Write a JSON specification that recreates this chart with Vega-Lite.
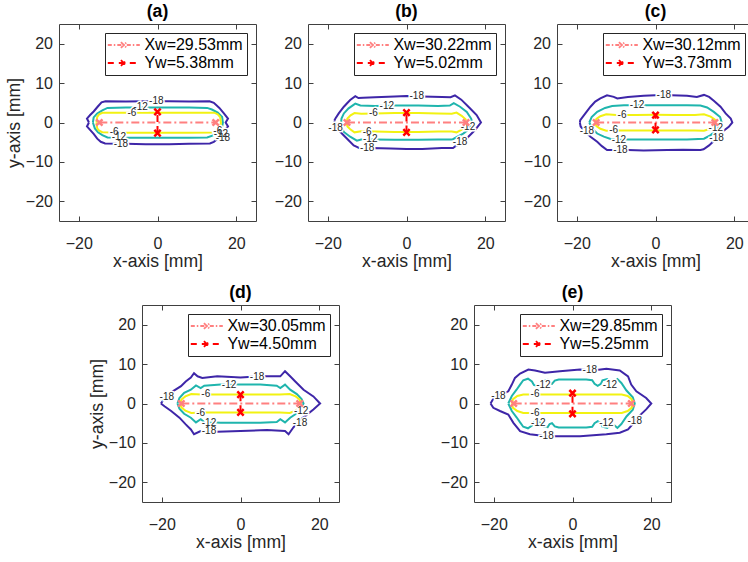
{
"$schema":"https://vega.github.io/schema/vega-lite/v6.json",
"padding":{"left":4,"top":2,"right":0,"bottom":0},
"background":"white",
"datasets":{
"contours":[
{"p":"a","l":-18,"x":-17.4,"y":0},{"p":"a","l":-18,"x":-17.9,"y":1.0},{"p":"a","l":-18,"x":-17.1,"y":1.9},{"p":"a","l":-18,"x":-16.2,"y":2.8},{"p":"a","l":-18,"x":-15.2,"y":4.0},{"p":"a","l":-18,"x":-14.2,"y":5.1},{"p":"a","l":-18,"x":-13.2,"y":5.4},{"p":"a","l":-18,"x":-8,"y":5.3},{"p":"a","l":-18,"x":-3,"y":5.4},{"p":"a","l":-18,"x":3,"y":5.4},{"p":"a","l":-18,"x":8,"y":5.3},{"p":"a","l":-18,"x":13.2,"y":5.4},{"p":"a","l":-18,"x":14.3,"y":5.0},{"p":"a","l":-18,"x":15.7,"y":3.7},{"p":"a","l":-18,"x":16.8,"y":2.4},{"p":"a","l":-18,"x":17.9,"y":1.0},{"p":"a","l":-18,"x":17.3,"y":0},{"p":"a","l":-18,"x":17.9,"y":-1.0},{"p":"a","l":-18,"x":17.0,"y":-2.0},{"p":"a","l":-18,"x":16.2,"y":-2.9},{"p":"a","l":-18,"x":15.3,"y":-4.1},{"p":"a","l":-18,"x":14.3,"y":-4.9},{"p":"a","l":-18,"x":13.3,"y":-5.3},{"p":"a","l":-18,"x":8,"y":-5.4},{"p":"a","l":-18,"x":3,"y":-5.5},{"p":"a","l":-18,"x":-3,"y":-5.5},{"p":"a","l":-18,"x":-8,"y":-5.4},{"p":"a","l":-18,"x":-13.3,"y":-5.3},{"p":"a","l":-18,"x":-14.4,"y":-4.9},{"p":"a","l":-18,"x":-15.3,"y":-4.1},{"p":"a","l":-18,"x":-16.2,"y":-2.9},{"p":"a","l":-18,"x":-17.0,"y":-2.0},{"p":"a","l":-18,"x":-17.9,"y":-1.0},{"p":"a","l":-18,"x":-17.4,"y":0},
{"p":"a","l":-12,"x":-16.4,"y":0},{"p":"a","l":-12,"x":-16.2,"y":1.3},{"p":"a","l":-12,"x":-15.3,"y":2.3},{"p":"a","l":-12,"x":-14.0,"y":3.1},{"p":"a","l":-12,"x":-12.7,"y":3.7},{"p":"a","l":-12,"x":-8,"y":3.8},{"p":"a","l":-12,"x":-3,"y":3.8},{"p":"a","l":-12,"x":3,"y":3.8},{"p":"a","l":-12,"x":8,"y":3.8},{"p":"a","l":-12,"x":12.6,"y":3.7},{"p":"a","l":-12,"x":13.8,"y":3.3},{"p":"a","l":-12,"x":15.3,"y":2.5},{"p":"a","l":-12,"x":16.4,"y":1.4},{"p":"a","l":-12,"x":16.6,"y":0},{"p":"a","l":-12,"x":16.4,"y":-1.1},{"p":"a","l":-12,"x":15.5,"y":-2.4},{"p":"a","l":-12,"x":14.3,"y":-3.2},{"p":"a","l":-12,"x":12.6,"y":-3.8},{"p":"a","l":-12,"x":8,"y":-3.9},{"p":"a","l":-12,"x":3,"y":-3.9},{"p":"a","l":-12,"x":-3,"y":-3.9},{"p":"a","l":-12,"x":-8,"y":-3.9},{"p":"a","l":-12,"x":-12.7,"y":-3.8},{"p":"a","l":-12,"x":-14.0,"y":-3.2},{"p":"a","l":-12,"x":-15.1,"y":-2.5},{"p":"a","l":-12,"x":-15.9,"y":-1.5},{"p":"a","l":-12,"x":-16.4,"y":0},
{"p":"a","l":-6,"x":-15.5,"y":0},{"p":"a","l":-6,"x":-15.3,"y":1.4},{"p":"a","l":-6,"x":-14.8,"y":2.1},{"p":"a","l":-6,"x":-14.0,"y":2.45},{"p":"a","l":-6,"x":-8,"y":2.5},{"p":"a","l":-6,"x":-3,"y":2.5},{"p":"a","l":-6,"x":3,"y":2.5},{"p":"a","l":-6,"x":8,"y":2.5},{"p":"a","l":-6,"x":14.4,"y":2.5},{"p":"a","l":-6,"x":15.3,"y":2.1},{"p":"a","l":-6,"x":15.9,"y":1.4},{"p":"a","l":-6,"x":16.1,"y":0},{"p":"a","l":-6,"x":15.9,"y":-1.5},{"p":"a","l":-6,"x":15.2,"y":-2.2},{"p":"a","l":-6,"x":14.3,"y":-2.55},{"p":"a","l":-6,"x":8,"y":-2.6},{"p":"a","l":-6,"x":3,"y":-2.6},{"p":"a","l":-6,"x":-3,"y":-2.6},{"p":"a","l":-6,"x":-8,"y":-2.6},{"p":"a","l":-6,"x":-14.0,"y":-2.45},{"p":"a","l":-6,"x":-14.8,"y":-2.1},{"p":"a","l":-6,"x":-15.3,"y":-1.5},{"p":"a","l":-6,"x":-15.5,"y":0},

{"p":"b","l":-18,"x":-18.3,"y":0.5},{"p":"b","l":-18,"x":-18.0,"y":1.1},{"p":"b","l":-18,"x":-17.2,"y":2.3},{"p":"b","l":-18,"x":-15.9,"y":4.0},{"p":"b","l":-18,"x":-14.3,"y":5.7},{"p":"b","l":-18,"x":-13.0,"y":6.7},{"p":"b","l":-18,"x":-12.2,"y":6.2},{"p":"b","l":-18,"x":-11.0,"y":6.3},{"p":"b","l":-18,"x":-8,"y":6.4},{"p":"b","l":-18,"x":-3,"y":6.6},{"p":"b","l":-18,"x":0,"y":6.7},{"p":"b","l":-18,"x":4,"y":6.6},{"p":"b","l":-18,"x":9,"y":6.5},{"p":"b","l":-18,"x":11.2,"y":6.4},{"p":"b","l":-18,"x":12.3,"y":6.9},{"p":"b","l":-18,"x":13.9,"y":5.8},{"p":"b","l":-18,"x":16.1,"y":3.6},{"p":"b","l":-18,"x":17.8,"y":1.9},{"p":"b","l":-18,"x":18.9,"y":0},{"p":"b","l":-18,"x":17.4,"y":-1.9},{"p":"b","l":-18,"x":15.7,"y":-3.6},{"p":"b","l":-18,"x":13.9,"y":-5.4},{"p":"b","l":-18,"x":12.6,"y":-5.9},{"p":"b","l":-18,"x":11.8,"y":-6.5},{"p":"b","l":-18,"x":9,"y":-6.5},{"p":"b","l":-18,"x":4,"y":-6.7},{"p":"b","l":-18,"x":0,"y":-6.7},{"p":"b","l":-18,"x":-4,"y":-6.6},{"p":"b","l":-18,"x":-9,"y":-6.5},{"p":"b","l":-18,"x":-11.8,"y":-6.6},{"p":"b","l":-18,"x":-12.6,"y":-6.2},{"p":"b","l":-18,"x":-13.4,"y":-5.8},{"p":"b","l":-18,"x":-14.7,"y":-4.5},{"p":"b","l":-18,"x":-16.4,"y":-2.8},{"p":"b","l":-18,"x":-17.6,"y":-1.5},{"p":"b","l":-18,"x":-18.3,"y":0.5},
{"p":"b","l":-12,"x":-16.6,"y":0},{"p":"b","l":-12,"x":-16.5,"y":1.0},{"p":"b","l":-12,"x":-15.9,"y":2.3},{"p":"b","l":-12,"x":-14.7,"y":3.6},{"p":"b","l":-12,"x":-13.0,"y":4.8},{"p":"b","l":-12,"x":-11.7,"y":4.3},{"p":"b","l":-12,"x":-8,"y":4.2},{"p":"b","l":-12,"x":-3,"y":4.3},{"p":"b","l":-12,"x":3,"y":4.3},{"p":"b","l":-12,"x":8,"y":4.2},{"p":"b","l":-12,"x":11.0,"y":4.3},{"p":"b","l":-12,"x":12.0,"y":4.9},{"p":"b","l":-12,"x":13.6,"y":4.0},{"p":"b","l":-12,"x":15.3,"y":2.7},{"p":"b","l":-12,"x":16.4,"y":1.0},{"p":"b","l":-12,"x":16.7,"y":0},{"p":"b","l":-12,"x":16.1,"y":-1.5},{"p":"b","l":-12,"x":14.4,"y":-2.8},{"p":"b","l":-12,"x":12.7,"y":-3.7},{"p":"b","l":-12,"x":11.7,"y":-4.3},{"p":"b","l":-12,"x":8,"y":-4.3},{"p":"b","l":-12,"x":3,"y":-4.4},{"p":"b","l":-12,"x":-3,"y":-4.4},{"p":"b","l":-12,"x":-8,"y":-4.3},{"p":"b","l":-12,"x":-11.5,"y":-4.3},{"p":"b","l":-12,"x":-12.6,"y":-4.6},{"p":"b","l":-12,"x":-14.3,"y":-3.6},{"p":"b","l":-12,"x":-15.9,"y":-2.4},{"p":"b","l":-12,"x":-16.6,"y":-1.0},{"p":"b","l":-12,"x":-16.6,"y":0},
{"p":"b","l":-6,"x":-15.2,"y":0},{"p":"b","l":-6,"x":-15.0,"y":1.0},{"p":"b","l":-6,"x":-14.2,"y":1.8},{"p":"b","l":-6,"x":-13.2,"y":2.4},{"p":"b","l":-6,"x":-11.5,"y":2.2},{"p":"b","l":-6,"x":-8,"y":2.3},{"p":"b","l":-6,"x":-3,"y":2.4},{"p":"b","l":-6,"x":3,"y":2.4},{"p":"b","l":-6,"x":8,"y":2.3},{"p":"b","l":-6,"x":11.5,"y":2.2},{"p":"b","l":-6,"x":12.7,"y":2.5},{"p":"b","l":-6,"x":14.0,"y":1.7},{"p":"b","l":-6,"x":15.0,"y":0.8},{"p":"b","l":-6,"x":15.3,"y":0},{"p":"b","l":-6,"x":15.0,"y":-0.9},{"p":"b","l":-6,"x":14.0,"y":-1.8},{"p":"b","l":-6,"x":12.7,"y":-2.5},{"p":"b","l":-6,"x":11.5,"y":-2.3},{"p":"b","l":-6,"x":8,"y":-2.3},{"p":"b","l":-6,"x":3,"y":-2.4},{"p":"b","l":-6,"x":-3,"y":-2.4},{"p":"b","l":-6,"x":-8,"y":-2.3},{"p":"b","l":-6,"x":-11.5,"y":-2.2},{"p":"b","l":-6,"x":-13.2,"y":-2.5},{"p":"b","l":-6,"x":-14.2,"y":-1.8},{"p":"b","l":-6,"x":-15.0,"y":-1.0},{"p":"b","l":-6,"x":-15.2,"y":0},

{"p":"c","l":-18,"x":-19.2,"y":0},{"p":"c","l":-18,"x":-19.1,"y":0.6},{"p":"c","l":-18,"x":-17.8,"y":2.3},{"p":"c","l":-18,"x":-16.5,"y":4.0},{"p":"c","l":-18,"x":-15.3,"y":5.3},{"p":"c","l":-18,"x":-14.0,"y":6.1},{"p":"c","l":-18,"x":-12.3,"y":6.9},{"p":"c","l":-18,"x":-10.6,"y":6.5},{"p":"c","l":-18,"x":-9.7,"y":6.1},{"p":"c","l":-18,"x":-7,"y":6.5},{"p":"c","l":-18,"x":-3,"y":6.8},{"p":"c","l":-18,"x":0,"y":6.9},{"p":"c","l":-18,"x":4,"y":6.9},{"p":"c","l":-18,"x":8,"y":6.8},{"p":"c","l":-18,"x":10.5,"y":6.5},{"p":"c","l":-18,"x":12.3,"y":7.0},{"p":"c","l":-18,"x":13.6,"y":6.5},{"p":"c","l":-18,"x":14.8,"y":5.5},{"p":"c","l":-18,"x":16.5,"y":4.0},{"p":"c","l":-18,"x":17.8,"y":2.3},{"p":"c","l":-18,"x":19.1,"y":1.0},{"p":"c","l":-18,"x":19.5,"y":0},{"p":"c","l":-18,"x":18.6,"y":-1.1},{"p":"c","l":-18,"x":16.9,"y":-2.4},{"p":"c","l":-18,"x":15.5,"y":-4.0},{"p":"c","l":-18,"x":13.6,"y":-5.8},{"p":"c","l":-18,"x":12.2,"y":-6.8},{"p":"c","l":-18,"x":11.4,"y":-7.0},{"p":"c","l":-18,"x":7,"y":-6.9},{"p":"c","l":-18,"x":3,"y":-7.0},{"p":"c","l":-18,"x":-3,"y":-7.1},{"p":"c","l":-18,"x":-7,"y":-7.0},{"p":"c","l":-18,"x":-11.4,"y":-7.0},{"p":"c","l":-18,"x":-12.3,"y":-7.0},{"p":"c","l":-18,"x":-13.6,"y":-6.0},{"p":"c","l":-18,"x":-14.8,"y":-4.9},{"p":"c","l":-18,"x":-16.5,"y":-3.6},{"p":"c","l":-18,"x":-18.0,"y":-2.2},{"p":"c","l":-18,"x":-19.0,"y":-1.0},{"p":"c","l":-18,"x":-19.2,"y":0},
{"p":"c","l":-12,"x":-16.8,"y":0},{"p":"c","l":-12,"x":-16.2,"y":1.4},{"p":"c","l":-12,"x":-14.8,"y":2.7},{"p":"c","l":-12,"x":-12.8,"y":3.7},{"p":"c","l":-12,"x":-11.0,"y":4.2},{"p":"c","l":-12,"x":-8,"y":4.4},{"p":"c","l":-12,"x":-3,"y":4.4},{"p":"c","l":-12,"x":3,"y":4.4},{"p":"c","l":-12,"x":8,"y":4.4},{"p":"c","l":-12,"x":11.4,"y":4.3},{"p":"c","l":-12,"x":13.1,"y":3.8},{"p":"c","l":-12,"x":14.8,"y":2.7},{"p":"c","l":-12,"x":16.4,"y":1.4},{"p":"c","l":-12,"x":16.8,"y":0},{"p":"c","l":-12,"x":16.5,"y":-0.8},{"p":"c","l":-12,"x":15.5,"y":-1.9},{"p":"c","l":-12,"x":14.0,"y":-3.2},{"p":"c","l":-12,"x":12.3,"y":-4.1},{"p":"c","l":-12,"x":8,"y":-4.3},{"p":"c","l":-12,"x":3,"y":-4.3},{"p":"c","l":-12,"x":-3,"y":-4.3},{"p":"c","l":-12,"x":-8,"y":-4.3},{"p":"c","l":-12,"x":-11.4,"y":-4.2},{"p":"c","l":-12,"x":-13.1,"y":-3.6},{"p":"c","l":-12,"x":-14.8,"y":-2.8},{"p":"c","l":-12,"x":-16.1,"y":-1.5},{"p":"c","l":-12,"x":-16.8,"y":0},
{"p":"c","l":-6,"x":-15.3,"y":0},{"p":"c","l":-6,"x":-15.0,"y":0.9},{"p":"c","l":-6,"x":-14.0,"y":1.6},{"p":"c","l":-6,"x":-12.5,"y":2.1},{"p":"c","l":-6,"x":-10,"y":1.9},{"p":"c","l":-6,"x":-5,"y":1.9},{"p":"c","l":-6,"x":0,"y":1.95},{"p":"c","l":-6,"x":5,"y":1.9},{"p":"c","l":-6,"x":10,"y":1.9},{"p":"c","l":-6,"x":12.3,"y":2.1},{"p":"c","l":-6,"x":14.0,"y":1.5},{"p":"c","l":-6,"x":15.1,"y":0.7},{"p":"c","l":-6,"x":15.4,"y":0},{"p":"c","l":-6,"x":15.0,"y":-0.9},{"p":"c","l":-6,"x":14.0,"y":-1.6},{"p":"c","l":-6,"x":12.3,"y":-2.1},{"p":"c","l":-6,"x":10,"y":-2.0},{"p":"c","l":-6,"x":5,"y":-2.0},{"p":"c","l":-6,"x":0,"y":-2.0},{"p":"c","l":-6,"x":-5,"y":-2.0},{"p":"c","l":-6,"x":-10,"y":-2.0},{"p":"c","l":-6,"x":-12.5,"y":-2.1},{"p":"c","l":-6,"x":-14.0,"y":-1.6},{"p":"c","l":-6,"x":-15.0,"y":-0.9},{"p":"c","l":-6,"x":-15.3,"y":0},

{"p":"d","l":-18,"x":-20.2,"y":0},{"p":"d","l":-18,"x":-18.9,"y":1.8},{"p":"d","l":-18,"x":-17.2,"y":3.1},{"p":"d","l":-18,"x":-15.1,"y":4.4},{"p":"d","l":-18,"x":-13.9,"y":5.6},{"p":"d","l":-18,"x":-12.6,"y":6.6},{"p":"d","l":-18,"x":-11.8,"y":7.7},{"p":"d","l":-18,"x":-10.9,"y":6.9},{"p":"d","l":-18,"x":-9.7,"y":6.5},{"p":"d","l":-18,"x":-5.9,"y":6.9},{"p":"d","l":-18,"x":0,"y":6.6},{"p":"d","l":-18,"x":5.0,"y":6.9},{"p":"d","l":-18,"x":10.1,"y":6.9},{"p":"d","l":-18,"x":11.3,"y":8.2},{"p":"d","l":-18,"x":12.6,"y":6.9},{"p":"d","l":-18,"x":13.9,"y":5.6},{"p":"d","l":-18,"x":16.0,"y":3.5},{"p":"d","l":-18,"x":18.5,"y":1.8},{"p":"d","l":-18,"x":20.2,"y":0},{"p":"d","l":-18,"x":18.5,"y":-1.5},{"p":"d","l":-18,"x":16.4,"y":-3.2},{"p":"d","l":-18,"x":14.7,"y":-4.5},{"p":"d","l":-18,"x":13.4,"y":-6.1},{"p":"d","l":-18,"x":12.2,"y":-7.8},{"p":"d","l":-18,"x":11.3,"y":-7.0},{"p":"d","l":-18,"x":6.7,"y":-6.7},{"p":"d","l":-18,"x":0,"y":-7.0},{"p":"d","l":-18,"x":-5.9,"y":-7.2},{"p":"d","l":-18,"x":-10.1,"y":-7.0},{"p":"d","l":-18,"x":-11.8,"y":-7.8},{"p":"d","l":-18,"x":-12.6,"y":-6.6},{"p":"d","l":-18,"x":-13.9,"y":-5.3},{"p":"d","l":-18,"x":-15.5,"y":-3.6},{"p":"d","l":-18,"x":-17.6,"y":-1.9},{"p":"d","l":-18,"x":-19.3,"y":-0.7},{"p":"d","l":-18,"x":-20.2,"y":0},
{"p":"d","l":-12,"x":-16.0,"y":0},{"p":"d","l":-12,"x":-15.5,"y":1.4},{"p":"d","l":-12,"x":-14.3,"y":2.7},{"p":"d","l":-12,"x":-12.6,"y":3.5},{"p":"d","l":-12,"x":-11.3,"y":4.6},{"p":"d","l":-12,"x":-10.1,"y":3.9},{"p":"d","l":-12,"x":-9.2,"y":4.5},{"p":"d","l":-12,"x":-5,"y":4.8},{"p":"d","l":-12,"x":0,"y":4.8},{"p":"d","l":-12,"x":5,"y":4.8},{"p":"d","l":-12,"x":9.2,"y":4.5},{"p":"d","l":-12,"x":10.1,"y":3.9},{"p":"d","l":-12,"x":11.3,"y":4.8},{"p":"d","l":-12,"x":12.6,"y":3.5},{"p":"d","l":-12,"x":14.3,"y":2.4},{"p":"d","l":-12,"x":15.5,"y":1.1},{"p":"d","l":-12,"x":16.0,"y":0},{"p":"d","l":-12,"x":15.5,"y":-1.2},{"p":"d","l":-12,"x":14.3,"y":-2.5},{"p":"d","l":-12,"x":12.6,"y":-3.6},{"p":"d","l":-12,"x":11.3,"y":-4.8},{"p":"d","l":-12,"x":10.1,"y":-4.0},{"p":"d","l":-12,"x":9.2,"y":-4.7},{"p":"d","l":-12,"x":5,"y":-4.9},{"p":"d","l":-12,"x":0,"y":-4.9},{"p":"d","l":-12,"x":-5,"y":-4.9},{"p":"d","l":-12,"x":-9.2,"y":-4.7},{"p":"d","l":-12,"x":-10.1,"y":-4.0},{"p":"d","l":-12,"x":-11.3,"y":-4.8},{"p":"d","l":-12,"x":-12.6,"y":-3.6},{"p":"d","l":-12,"x":-14.3,"y":-2.6},{"p":"d","l":-12,"x":-15.5,"y":-1.3},{"p":"d","l":-12,"x":-16.0,"y":0},
{"p":"d","l":-6,"x":-15.3,"y":0},{"p":"d","l":-6,"x":-15.0,"y":1.0},{"p":"d","l":-6,"x":-14.0,"y":1.8},{"p":"d","l":-6,"x":-12.5,"y":2.4},{"p":"d","l":-6,"x":-10,"y":2.3},{"p":"d","l":-6,"x":-5,"y":2.3},{"p":"d","l":-6,"x":0,"y":2.3},{"p":"d","l":-6,"x":5,"y":2.3},{"p":"d","l":-6,"x":10,"y":2.3},{"p":"d","l":-6,"x":12.5,"y":2.4},{"p":"d","l":-6,"x":14.0,"y":1.8},{"p":"d","l":-6,"x":15.0,"y":1.0},{"p":"d","l":-6,"x":15.3,"y":0},{"p":"d","l":-6,"x":15.0,"y":-1.0},{"p":"d","l":-6,"x":14.0,"y":-1.8},{"p":"d","l":-6,"x":12.5,"y":-2.4},{"p":"d","l":-6,"x":10,"y":-2.3},{"p":"d","l":-6,"x":5,"y":-2.3},{"p":"d","l":-6,"x":0,"y":-2.3},{"p":"d","l":-6,"x":-5,"y":-2.3},{"p":"d","l":-6,"x":-10,"y":-2.3},{"p":"d","l":-6,"x":-12.5,"y":-2.4},{"p":"d","l":-6,"x":-14.0,"y":-1.8},{"p":"d","l":-6,"x":-15.0,"y":-1.0},{"p":"d","l":-6,"x":-15.3,"y":0},

{"p":"e","l":-18,"x":-20.8,"y":0},{"p":"e","l":-18,"x":-19.7,"y":1.9},{"p":"e","l":-18,"x":-18.0,"y":2.3},{"p":"e","l":-18,"x":-16.3,"y":3.1},{"p":"e","l":-18,"x":-15.4,"y":4.8},{"p":"e","l":-18,"x":-14.6,"y":6.5},{"p":"e","l":-18,"x":-13.3,"y":7.6},{"p":"e","l":-18,"x":-11.2,"y":8.6},{"p":"e","l":-18,"x":-9.5,"y":8.4},{"p":"e","l":-18,"x":-7.0,"y":7.8},{"p":"e","l":-18,"x":-3.2,"y":8.2},{"p":"e","l":-18,"x":1.9,"y":8.6},{"p":"e","l":-18,"x":5.2,"y":8.4},{"p":"e","l":-18,"x":8.6,"y":8.8},{"p":"e","l":-18,"x":12.0,"y":8.4},{"p":"e","l":-18,"x":14.1,"y":6.9},{"p":"e","l":-18,"x":14.9,"y":4.8},{"p":"e","l":-18,"x":16.2,"y":3.1},{"p":"e","l":-18,"x":18.7,"y":1.4},{"p":"e","l":-18,"x":20.0,"y":0},{"p":"e","l":-18,"x":18.7,"y":-1.5},{"p":"e","l":-18,"x":16.9,"y":-3.2},{"p":"e","l":-18,"x":15.5,"y":-5.0},{"p":"e","l":-18,"x":14.1,"y":-6.6},{"p":"e","l":-18,"x":12.0,"y":-7.4},{"p":"e","l":-18,"x":8.6,"y":-7.8},{"p":"e","l":-18,"x":1.9,"y":-8.3},{"p":"e","l":-18,"x":-6.6,"y":-8.3},{"p":"e","l":-18,"x":-10.8,"y":-7.8},{"p":"e","l":-18,"x":-13.3,"y":-7.0},{"p":"e","l":-18,"x":-15.0,"y":-4.9},{"p":"e","l":-18,"x":-16.3,"y":-2.8},{"p":"e","l":-18,"x":-18.4,"y":-1.9},{"p":"e","l":-18,"x":-20.1,"y":-1.1},{"p":"e","l":-18,"x":-20.8,"y":0},
{"p":"e","l":-12,"x":-16.3,"y":0},{"p":"e","l":-12,"x":-15.4,"y":1.9},{"p":"e","l":-12,"x":-14.2,"y":3.5},{"p":"e","l":-12,"x":-13.3,"y":4.8},{"p":"e","l":-12,"x":-12.5,"y":5.9},{"p":"e","l":-12,"x":-11.3,"y":6.3},{"p":"e","l":-12,"x":-10.3,"y":5.6},{"p":"e","l":-12,"x":-9.8,"y":4.7},{"p":"e","l":-12,"x":-8.8,"y":4.4},{"p":"e","l":-12,"x":-7.8,"y":5.0},{"p":"e","l":-12,"x":-7.3,"y":5.8},{"p":"e","l":-12,"x":-6.3,"y":6.0},{"p":"e","l":-12,"x":-5.8,"y":5.2},{"p":"e","l":-12,"x":-5.2,"y":5.0},{"p":"e","l":-12,"x":-4.5,"y":5.8},{"p":"e","l":-12,"x":-3.5,"y":6.1},{"p":"e","l":-12,"x":0,"y":6.1},{"p":"e","l":-12,"x":3.5,"y":6.1},{"p":"e","l":-12,"x":5.0,"y":5.9},{"p":"e","l":-12,"x":5.6,"y":5.0},{"p":"e","l":-12,"x":6.4,"y":4.5},{"p":"e","l":-12,"x":7.2,"y":5.0},{"p":"e","l":-12,"x":7.6,"y":5.9},{"p":"e","l":-12,"x":8.8,"y":6.2},{"p":"e","l":-12,"x":9.8,"y":5.4},{"p":"e","l":-12,"x":10.6,"y":5.5},{"p":"e","l":-12,"x":11.4,"y":6.2},{"p":"e","l":-12,"x":12.4,"y":5.2},{"p":"e","l":-12,"x":13.7,"y":3.3},{"p":"e","l":-12,"x":15.3,"y":1.6},{"p":"e","l":-12,"x":15.8,"y":0},{"p":"e","l":-12,"x":15.3,"y":-1.6},{"p":"e","l":-12,"x":13.7,"y":-3.3},{"p":"e","l":-12,"x":12.4,"y":-5.2},{"p":"e","l":-12,"x":11.4,"y":-6.2},{"p":"e","l":-12,"x":10.6,"y":-5.5},{"p":"e","l":-12,"x":9.8,"y":-5.4},{"p":"e","l":-12,"x":8.8,"y":-6.2},{"p":"e","l":-12,"x":7.6,"y":-5.9},{"p":"e","l":-12,"x":7.2,"y":-5.0},{"p":"e","l":-12,"x":6.4,"y":-4.5},{"p":"e","l":-12,"x":5.6,"y":-5.0},{"p":"e","l":-12,"x":5.0,"y":-5.9},{"p":"e","l":-12,"x":3.5,"y":-6.1},{"p":"e","l":-12,"x":0,"y":-6.1},{"p":"e","l":-12,"x":-3.5,"y":-6.1},{"p":"e","l":-12,"x":-4.5,"y":-5.8},{"p":"e","l":-12,"x":-5.2,"y":-5.0},{"p":"e","l":-12,"x":-5.8,"y":-5.2},{"p":"e","l":-12,"x":-6.3,"y":-6.0},{"p":"e","l":-12,"x":-7.3,"y":-5.8},{"p":"e","l":-12,"x":-7.8,"y":-5.0},{"p":"e","l":-12,"x":-8.8,"y":-4.4},{"p":"e","l":-12,"x":-9.8,"y":-4.7},{"p":"e","l":-12,"x":-10.3,"y":-5.6},{"p":"e","l":-12,"x":-11.3,"y":-6.3},{"p":"e","l":-12,"x":-12.5,"y":-5.9},{"p":"e","l":-12,"x":-13.3,"y":-4.8},{"p":"e","l":-12,"x":-14.2,"y":-3.5},{"p":"e","l":-12,"x":-15.4,"y":-1.9},{"p":"e","l":-12,"x":-16.3,"y":0},
{"p":"e","l":-6,"x":-15.4,"y":0},{"p":"e","l":-6,"x":-15.1,"y":1.1},{"p":"e","l":-6,"x":-14.0,"y":1.9},{"p":"e","l":-6,"x":-12.5,"y":2.3},{"p":"e","l":-6,"x":-10,"y":2.3},{"p":"e","l":-6,"x":-5,"y":2.3},{"p":"e","l":-6,"x":0,"y":2.3},{"p":"e","l":-6,"x":5,"y":2.3},{"p":"e","l":-6,"x":10,"y":2.3},{"p":"e","l":-6,"x":12.5,"y":2.3},{"p":"e","l":-6,"x":14.0,"y":1.9},{"p":"e","l":-6,"x":15.0,"y":1.1},{"p":"e","l":-6,"x":15.3,"y":0},{"p":"e","l":-6,"x":15.0,"y":-1.1},{"p":"e","l":-6,"x":14.0,"y":-1.9},{"p":"e","l":-6,"x":12.5,"y":-2.4},{"p":"e","l":-6,"x":10,"y":-2.4},{"p":"e","l":-6,"x":5,"y":-2.4},{"p":"e","l":-6,"x":0,"y":-2.4},{"p":"e","l":-6,"x":-5,"y":-2.4},{"p":"e","l":-6,"x":-10,"y":-2.4},{"p":"e","l":-6,"x":-12.5,"y":-2.4},{"p":"e","l":-6,"x":-14.0,"y":-1.9},{"p":"e","l":-6,"x":-15.1,"y":-1.1},{"p":"e","l":-6,"x":-15.4,"y":0}
],
"labels":[
{"p":"a","x":-0.3,"y":5.4,"t":"-18"},{"p":"a","x":-4.3,"y":3.9,"t":"-12"},{"p":"a","x":-6.5,"y":2.4,"t":"-6"},{"p":"a","x":-11.0,"y":-2.4,"t":"-6"},{"p":"a","x":-9.8,"y":-3.8,"t":"-12"},{"p":"a","x":-9.3,"y":-5.5,"t":"-18"},{"p":"a","x":15.3,"y":-2.2,"t":"-6"},{"p":"a","x":16.1,"y":-3.0,"t":"-12"},{"p":"a","x":16.6,"y":-3.9,"t":"-18"},
{"p":"b","x":2.6,"y":6.7,"t":"-18"},{"p":"b","x":-5.0,"y":4.2,"t":"-12"},{"p":"b","x":-8.4,"y":2.3,"t":"-6"},{"p":"b","x":-10.0,"y":-2.4,"t":"-6"},{"p":"b","x":-9.2,"y":-4.2,"t":"-12"},{"p":"b","x":-10.0,"y":-6.5,"t":"-18"},{"p":"b","x":13.6,"y":-5.0,"t":"-18"},{"p":"b","x":-18.0,"y":-1.5,"t":"-18"},{"p":"b","x":15.6,"y":-1.2,"t":"-12"},
{"p":"c","x":2.1,"y":6.9,"t":"-18"},{"p":"c","x":-4.7,"y":4.4,"t":"-12"},{"p":"c","x":-8.5,"y":1.9,"t":"-6"},{"p":"c","x":-10.6,"y":-1.9,"t":"-6"},{"p":"c","x":-9.3,"y":-4.4,"t":"-12"},{"p":"c","x":-8.9,"y":-7.0,"t":"-18"},{"p":"c","x":-17.4,"y":-2.1,"t":"-18"},{"p":"c","x":15.5,"y":-3.9,"t":"-18"},{"p":"c","x":15.3,"y":-1.3,"t":"-12"},
{"p":"d","x":4.2,"y":6.6,"t":"-18"},{"p":"d","x":-2.9,"y":4.8,"t":"-12"},{"p":"d","x":-8.8,"y":2.3,"t":"-6"},{"p":"d","x":-10.1,"y":-2.3,"t":"-6"},{"p":"d","x":-8.0,"y":-4.9,"t":"-12"},{"p":"d","x":-8.0,"y":-7.0,"t":"-18"},{"p":"d","x":-18.7,"y":1.6,"t":"-18"},{"p":"d","x":15.1,"y":-4.9,"t":"-18"},{"p":"d","x":15.4,"y":-2.0,"t":"-12"},
{"p":"e","x":4.4,"y":8.4,"t":"-18"},{"p":"e","x":-7.4,"y":4.6,"t":"-12"},{"p":"e","x":9.5,"y":4.6,"t":"-12"},{"p":"e","x":-9.5,"y":2.3,"t":"-6"},{"p":"e","x":-9.5,"y":-2.4,"t":"-6"},{"p":"e","x":-8.7,"y":-4.9,"t":"-12"},{"p":"e","x":8.6,"y":-4.9,"t":"-12"},{"p":"e","x":-6.6,"y":-8.3,"t":"-18"},{"p":"e","x":-18.8,"y":1.9,"t":"-18"},{"p":"e","x":15.8,"y":-4.5,"t":"-18"}
],
"widths":[
{"p":"a","s":"Xw=29.53mm","x":-14.765,"y":0},{"p":"a","s":"Xw=29.53mm","x":14.765,"y":0},{"p":"a","s":"Yw=5.38mm","x":0,"y":-2.69},{"p":"a","s":"Yw=5.38mm","x":0,"y":2.69},
{"p":"b","s":"Xw=30.22mm","x":-15.11,"y":0},{"p":"b","s":"Xw=30.22mm","x":15.11,"y":0},{"p":"b","s":"Yw=5.02mm","x":0,"y":-2.51},{"p":"b","s":"Yw=5.02mm","x":0,"y":2.51},
{"p":"c","s":"Xw=30.12mm","x":-15.06,"y":0},{"p":"c","s":"Xw=30.12mm","x":15.06,"y":0},{"p":"c","s":"Yw=3.73mm","x":0,"y":-1.865},{"p":"c","s":"Yw=3.73mm","x":0,"y":1.865},
{"p":"d","s":"Xw=30.05mm","x":-15.025,"y":0},{"p":"d","s":"Xw=30.05mm","x":15.025,"y":0},{"p":"d","s":"Yw=4.50mm","x":0,"y":-2.25},{"p":"d","s":"Yw=4.50mm","x":0,"y":2.25},
{"p":"e","s":"Xw=29.85mm","x":-14.925,"y":0},{"p":"e","s":"Xw=29.85mm","x":14.925,"y":0},{"p":"e","s":"Yw=5.25mm","x":0,"y":-2.625},{"p":"e","s":"Yw=5.25mm","x":0,"y":2.625}
]
},
"vconcat":[
{"hconcat":[
{"width":197,"height":197,"title":"(a)","resolve":{"axis":{"x":"independent","y":"independent"}},"layer":[
{"data":{"name":"contours"},"transform":[{"filter":"datum.p==='a'"}],"mark":{"type":"line","strokeWidth":2},"encoding":{"x":{"field":"x","type":"quantitative","scale":{"domain":[-25,25]},"axis":{"values":[-20,0,20],"title":"x-axis [mm]"}},"y":{"field":"y","type":"quantitative","scale":{"domain":[-25,25]},"axis":{"values":[-20,-10,0,10,20],"title":"y-axis [mm]"}},"stroke":{"field":"l","type":"nominal","scale":{"domain":[-18,-12,-6],"range":["#3e26a8","#1fb5ad","#f2f212"]},"legend":null},"order":{"value":null}}},
{"data":{"name":"labels"},"transform":[{"filter":"datum.p==='a'"}],"mark":{"type":"text","fontSize":10,"stroke":"white","strokeWidth":3,"fill":"white"},"encoding":{"x":{"field":"x","type":"quantitative","axis":{"orient":"top","values":[-20,0,20],"labels":false,"title":null}},"y":{"field":"y","type":"quantitative","axis":{"orient":"right","values":[-20,-10,0,10,20],"labels":false,"title":null}},"text":{"field":"t"}}},
{"data":{"name":"labels"},"transform":[{"filter":"datum.p==='a'"}],"mark":{"type":"text","fontSize":10,"fill":"#262626"},"encoding":{"x":{"field":"x","type":"quantitative","axis":null},"y":{"field":"y","type":"quantitative","axis":null},"text":{"field":"t"}}},
{"data":{"name":"widths"},"transform":[{"filter":"datum.p==='a'"}],"mark":{"type":"line","strokeWidth":2},"encoding":{"x":{"field":"x","type":"quantitative","axis":null},"y":{"field":"y","type":"quantitative","axis":null},"color":{"field":"s","type":"nominal","scale":{"range":["#ff8080","#ff0000"]},"legend":{"title":null,"orient":"top-right","encode":{"symbols":{"update":{"strokeDash":{"signal":"indexof(datum.value,'Xw')===0 ? [4,2,1.5,2] : [6,5]"}}}}}},"strokeDash":{"field":"s","type":"nominal","scale":{"range":[[8,3,2,3],[7,4]]},"legend":null},"order":{"value":null}}},
{"data":{"name":"widths"},"transform":[{"filter":"datum.p==='a'"}],"mark":{"type":"point","shape":"M-1,-1L1,1M-1,1L1,-1","filled":false,"strokeWidth":2.5,"size":40,"opacity":1},"encoding":{"x":{"field":"x","type":"quantitative","axis":null},"y":{"field":"y","type":"quantitative","axis":null},"color":{"field":"s","type":"nominal"}}}
]},
{"width":197,"height":197,"title":"(b)","resolve":{"axis":{"x":"independent","y":"independent"}},"layer":[
{"data":{"name":"contours"},"transform":[{"filter":"datum.p==='b'"}],"mark":{"type":"line","strokeWidth":2},"encoding":{"x":{"field":"x","type":"quantitative","scale":{"domain":[-25,25]},"axis":{"values":[-20,0,20],"title":"x-axis [mm]"}},"y":{"field":"y","type":"quantitative","scale":{"domain":[-25,25]},"axis":{"values":[-20,-10,0,10,20],"title":null}},"stroke":{"field":"l","type":"nominal","scale":{"domain":[-18,-12,-6],"range":["#3e26a8","#1fb5ad","#f2f212"]},"legend":null},"order":{"value":null}}},
{"data":{"name":"labels"},"transform":[{"filter":"datum.p==='b'"}],"mark":{"type":"text","fontSize":10,"stroke":"white","strokeWidth":3,"fill":"white"},"encoding":{"x":{"field":"x","type":"quantitative","axis":{"orient":"top","values":[-20,0,20],"labels":false,"title":null}},"y":{"field":"y","type":"quantitative","axis":{"orient":"right","values":[-20,-10,0,10,20],"labels":false,"title":null}},"text":{"field":"t"}}},
{"data":{"name":"labels"},"transform":[{"filter":"datum.p==='b'"}],"mark":{"type":"text","fontSize":10,"fill":"#262626"},"encoding":{"x":{"field":"x","type":"quantitative","axis":null},"y":{"field":"y","type":"quantitative","axis":null},"text":{"field":"t"}}},
{"data":{"name":"widths"},"transform":[{"filter":"datum.p==='b'"}],"mark":{"type":"line","strokeWidth":2},"encoding":{"x":{"field":"x","type":"quantitative","axis":null},"y":{"field":"y","type":"quantitative","axis":null},"color":{"field":"s","type":"nominal","scale":{"range":["#ff8080","#ff0000"]},"legend":{"title":null,"orient":"top-right","encode":{"symbols":{"update":{"strokeDash":{"signal":"indexof(datum.value,'Xw')===0 ? [4,2,1.5,2] : [6,5]"}}}}}},"strokeDash":{"field":"s","type":"nominal","scale":{"range":[[8,3,2,3],[7,4]]},"legend":null},"order":{"value":null}}},
{"data":{"name":"widths"},"transform":[{"filter":"datum.p==='b'"}],"mark":{"type":"point","shape":"M-1,-1L1,1M-1,1L1,-1","filled":false,"strokeWidth":2.5,"size":40,"opacity":1},"encoding":{"x":{"field":"x","type":"quantitative","axis":null},"y":{"field":"y","type":"quantitative","axis":null},"color":{"field":"s","type":"nominal"}}}
]},
{"width":197,"height":197,"title":"(c)","resolve":{"axis":{"x":"independent","y":"independent"}},"layer":[
{"data":{"name":"contours"},"transform":[{"filter":"datum.p==='c'"}],"mark":{"type":"line","strokeWidth":2},"encoding":{"x":{"field":"x","type":"quantitative","scale":{"domain":[-25,25]},"axis":{"values":[-20,0,20],"title":"x-axis [mm]"}},"y":{"field":"y","type":"quantitative","scale":{"domain":[-25,25]},"axis":{"values":[-20,-10,0,10,20],"title":null}},"stroke":{"field":"l","type":"nominal","scale":{"domain":[-18,-12,-6],"range":["#3e26a8","#1fb5ad","#f2f212"]},"legend":null},"order":{"value":null}}},
{"data":{"name":"labels"},"transform":[{"filter":"datum.p==='c'"}],"mark":{"type":"text","fontSize":10,"stroke":"white","strokeWidth":3,"fill":"white"},"encoding":{"x":{"field":"x","type":"quantitative","axis":{"orient":"top","values":[-20,0,20],"labels":false,"title":null}},"y":{"field":"y","type":"quantitative","axis":{"orient":"right","values":[-20,-10,0,10,20],"labels":false,"title":null}},"text":{"field":"t"}}},
{"data":{"name":"labels"},"transform":[{"filter":"datum.p==='c'"}],"mark":{"type":"text","fontSize":10,"fill":"#262626"},"encoding":{"x":{"field":"x","type":"quantitative","axis":null},"y":{"field":"y","type":"quantitative","axis":null},"text":{"field":"t"}}},
{"data":{"name":"widths"},"transform":[{"filter":"datum.p==='c'"}],"mark":{"type":"line","strokeWidth":2},"encoding":{"x":{"field":"x","type":"quantitative","axis":null},"y":{"field":"y","type":"quantitative","axis":null},"color":{"field":"s","type":"nominal","scale":{"range":["#ff8080","#ff0000"]},"legend":{"title":null,"orient":"top-right","encode":{"symbols":{"update":{"strokeDash":{"signal":"indexof(datum.value,'Xw')===0 ? [4,2,1.5,2] : [6,5]"}}}}}},"strokeDash":{"field":"s","type":"nominal","scale":{"range":[[8,3,2,3],[7,4]]},"legend":null},"order":{"value":null}}},
{"data":{"name":"widths"},"transform":[{"filter":"datum.p==='c'"}],"mark":{"type":"point","shape":"M-1,-1L1,1M-1,1L1,-1","filled":false,"strokeWidth":2.5,"size":40,"opacity":1},"encoding":{"x":{"field":"x","type":"quantitative","axis":null},"y":{"field":"y","type":"quantitative","axis":null},"color":{"field":"s","type":"nominal"}}}
]}
],"spacing":16,"resolve":{"scale":{"x":"independent","y":"independent","color":"independent","strokeDash":"independent"}}},
{"hconcat":[
{"width":197,"height":197,"title":"(d)","resolve":{"axis":{"x":"independent","y":"independent"}},"layer":[
{"data":{"name":"contours"},"transform":[{"filter":"datum.p==='d'"}],"mark":{"type":"line","strokeWidth":2},"encoding":{"x":{"field":"x","type":"quantitative","scale":{"domain":[-25,25]},"axis":{"values":[-20,0,20],"title":"x-axis [mm]"}},"y":{"field":"y","type":"quantitative","scale":{"domain":[-25,25]},"axis":{"values":[-20,-10,0,10,20],"title":"y-axis [mm]"}},"stroke":{"field":"l","type":"nominal","scale":{"domain":[-18,-12,-6],"range":["#3e26a8","#1fb5ad","#f2f212"]},"legend":null},"order":{"value":null}}},
{"data":{"name":"labels"},"transform":[{"filter":"datum.p==='d'"}],"mark":{"type":"text","fontSize":10,"stroke":"white","strokeWidth":3,"fill":"white"},"encoding":{"x":{"field":"x","type":"quantitative","axis":{"orient":"top","values":[-20,0,20],"labels":false,"title":null}},"y":{"field":"y","type":"quantitative","axis":{"orient":"right","values":[-20,-10,0,10,20],"labels":false,"title":null}},"text":{"field":"t"}}},
{"data":{"name":"labels"},"transform":[{"filter":"datum.p==='d'"}],"mark":{"type":"text","fontSize":10,"fill":"#262626"},"encoding":{"x":{"field":"x","type":"quantitative","axis":null},"y":{"field":"y","type":"quantitative","axis":null},"text":{"field":"t"}}},
{"data":{"name":"widths"},"transform":[{"filter":"datum.p==='d'"}],"mark":{"type":"line","strokeWidth":2},"encoding":{"x":{"field":"x","type":"quantitative","axis":null},"y":{"field":"y","type":"quantitative","axis":null},"color":{"field":"s","type":"nominal","scale":{"range":["#ff8080","#ff0000"]},"legend":{"title":null,"orient":"top-right","encode":{"symbols":{"update":{"strokeDash":{"signal":"indexof(datum.value,'Xw')===0 ? [4,2,1.5,2] : [6,5]"}}}}}},"strokeDash":{"field":"s","type":"nominal","scale":{"range":[[8,3,2,3],[7,4]]},"legend":null},"order":{"value":null}}},
{"data":{"name":"widths"},"transform":[{"filter":"datum.p==='d'"}],"mark":{"type":"point","shape":"M-1,-1L1,1M-1,1L1,-1","filled":false,"strokeWidth":2.5,"size":40,"opacity":1},"encoding":{"x":{"field":"x","type":"quantitative","axis":null},"y":{"field":"y","type":"quantitative","axis":null},"color":{"field":"s","type":"nominal"}}}
]},
{"width":197,"height":197,"title":"(e)","resolve":{"axis":{"x":"independent","y":"independent"}},"layer":[
{"data":{"name":"contours"},"transform":[{"filter":"datum.p==='e'"}],"mark":{"type":"line","strokeWidth":2},"encoding":{"x":{"field":"x","type":"quantitative","scale":{"domain":[-25,25]},"axis":{"values":[-20,0,20],"title":"x-axis [mm]"}},"y":{"field":"y","type":"quantitative","scale":{"domain":[-25,25]},"axis":{"values":[-20,-10,0,10,20],"title":null}},"stroke":{"field":"l","type":"nominal","scale":{"domain":[-18,-12,-6],"range":["#3e26a8","#1fb5ad","#f2f212"]},"legend":null},"order":{"value":null}}},
{"data":{"name":"labels"},"transform":[{"filter":"datum.p==='e'"}],"mark":{"type":"text","fontSize":10,"stroke":"white","strokeWidth":3,"fill":"white"},"encoding":{"x":{"field":"x","type":"quantitative","axis":{"orient":"top","values":[-20,0,20],"labels":false,"title":null}},"y":{"field":"y","type":"quantitative","axis":{"orient":"right","values":[-20,-10,0,10,20],"labels":false,"title":null}},"text":{"field":"t"}}},
{"data":{"name":"labels"},"transform":[{"filter":"datum.p==='e'"}],"mark":{"type":"text","fontSize":10,"fill":"#262626"},"encoding":{"x":{"field":"x","type":"quantitative","axis":null},"y":{"field":"y","type":"quantitative","axis":null},"text":{"field":"t"}}},
{"data":{"name":"widths"},"transform":[{"filter":"datum.p==='e'"}],"mark":{"type":"line","strokeWidth":2},"encoding":{"x":{"field":"x","type":"quantitative","axis":null},"y":{"field":"y","type":"quantitative","axis":null},"color":{"field":"s","type":"nominal","scale":{"range":["#ff8080","#ff0000"]},"legend":{"title":null,"orient":"top-right","encode":{"symbols":{"update":{"strokeDash":{"signal":"indexof(datum.value,'Xw')===0 ? [4,2,1.5,2] : [6,5]"}}}}}},"strokeDash":{"field":"s","type":"nominal","scale":{"range":[[8,3,2,3],[7,4]]},"legend":null},"order":{"value":null}}},
{"data":{"name":"widths"},"transform":[{"filter":"datum.p==='e'"}],"mark":{"type":"point","shape":"M-1,-1L1,1M-1,1L1,-1","filled":false,"strokeWidth":2.5,"size":40,"opacity":1},"encoding":{"x":{"field":"x","type":"quantitative","axis":null},"y":{"field":"y","type":"quantitative","axis":null},"color":{"field":"s","type":"nominal"}}}
]}
],"spacing":99,"resolve":{"scale":{"x":"independent","y":"independent","color":"independent","strokeDash":"independent"}}}
],
"spacing":12,
"center":true,
"resolve":{"scale":{"x":"independent","y":"independent","color":"independent","strokeDash":"independent"}},
"config":{
"font":"Liberation Sans",
"view":{"stroke":"#404040","strokeWidth":1},
"axis":{"labelFont":"Liberation Sans","labelFontSize":16,"labelColor":"#262626","titleFont":"Liberation Sans","titleFontSize":17.6,"titleFontWeight":"normal","titleColor":"#262626","tickColor":"#404040","tickSize":-5,"domain":false,"grid":false},
"axisX":{"labelPadding":19,"titlePadding":1},
"axisY":{"labelPadding":11.5,"titlePadding":2},
"title":{"font":"Liberation Sans","fontSize":17.6,"fontWeight":"bold","color":"#000","offset":3},
"text":{"font":"Liberation Sans"},
"legend":{"labelFont":"Liberation Sans","labelFontSize":16,"labelColor":"#000","strokeColor":"#262626","fillColor":"white","padding":4,"offset":9,"symbolType":"M-5,0H5M-0.9,-0.9L0.9,0.9M-0.9,0.9L0.9,-0.9","symbolSize":41,"symbolOffset":6.8,"symbolStrokeWidth":1.8,"labelOffset":12.6,"rowPadding":2,"labelLimit":300}
}
}
